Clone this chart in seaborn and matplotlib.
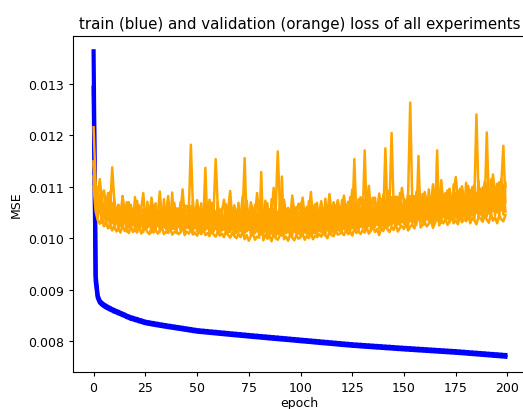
import numpy as np
import matplotlib
matplotlib.use('Agg')
import matplotlib.pyplot as plt
import seaborn as sns

# losses, in units of 1e-6 (MSE), one value per epoch
epochs = list(range(200))

train_a = [
    13640, 9270, 8880, 8780, 8742, 8708, 8686, 8661, 8642, 8618,
    8603, 8582, 8569, 8546, 8532, 8514, 8492, 8478, 8460, 8452,
    8435, 8427, 8410, 8402, 8386, 8377, 8366, 8362, 8352, 8348,
    8338, 8334, 8324, 8320, 8310, 8307, 8297, 8294, 8284, 8282,
    8272, 8270, 8259, 8257, 8247, 8244, 8234, 8232, 8221, 8219,
    8208, 8208, 8200, 8201, 8193, 8193, 8185, 8185, 8178, 8178,
    8170, 8170, 8162, 8163, 8155, 8155, 8147, 8147, 8140, 8140,
    8132, 8132, 8124, 8125, 8117, 8117, 8109, 8110, 8102, 8103,
    8095, 8095, 8088, 8088, 8081, 8081, 8073, 8074, 8066, 8067,
    8059, 8059, 8052, 8052, 8045, 8045, 8037, 8038, 8030, 8031,
    8023, 8023, 8016, 8016, 8009, 8009, 8001, 8002, 7994, 7995,
    7987, 7987, 7980, 7980, 7973, 7973, 7965, 7966, 7958, 7959,
    7951, 7951, 7944, 7944, 7937, 7937, 7930, 7931, 7925, 7926,
    7919, 7920, 7913, 7915, 7908, 7909, 7902, 7903, 7897, 7898,
    7891, 7892, 7885, 7887, 7880, 7881, 7874, 7875, 7869, 7870,
    7863, 7864, 7858, 7859, 7853, 7854, 7847, 7849, 7842, 7844,
    7837, 7838, 7832, 7833, 7827, 7828, 7821, 7823, 7816, 7818,
    7811, 7812, 7806, 7807, 7801, 7802, 7795, 7796, 7789, 7790,
    7783, 7783, 7776, 7777, 7770, 7771, 7764, 7765, 7758, 7759,
    7751, 7752, 7745, 7746, 7739, 7740, 7733, 7734, 7727, 7726,
]

train_b = [
    12930, 9160, 8840, 8745, 8706, 8676, 8650, 8628, 8608, 8590,
    8568, 8555, 8534, 8520, 8500, 8486, 8462, 8450, 8428, 8422,
    8404, 8396, 8380, 8370, 8356, 8345, 8337, 8330, 8322, 8315,
    8308, 8302, 8294, 8288, 8281, 8275, 8268, 8262, 8255, 8250,
    8243, 8238, 8230, 8225, 8217, 8213, 8204, 8200, 8191, 8187,
    8180, 8176, 8171, 8168, 8164, 8160, 8156, 8152, 8149, 8145,
    8141, 8137, 8134, 8130, 8126, 8122, 8119, 8114, 8111, 8107,
    8104, 8099, 8096, 8092, 8089, 8084, 8081, 8077, 8074, 8069,
    8067, 8062, 8060, 8055, 8052, 8047, 8045, 8040, 8038, 8033,
    8031, 8026, 8024, 8019, 8017, 8012, 8009, 8005, 8002, 7997,
    7995, 7990, 7988, 7983, 7981, 7976, 7973, 7969, 7966, 7962,
    7959, 7954, 7952, 7947, 7945, 7940, 7937, 7933, 7930, 7926,
    7923, 7918, 7916, 7911, 7909, 7904, 7902, 7898, 7897, 7892,
    7891, 7886, 7885, 7881, 7880, 7875, 7874, 7869, 7869, 7864,
    7863, 7858, 7857, 7853, 7852, 7847, 7846, 7841, 7841, 7836,
    7835, 7830, 7830, 7825, 7825, 7820, 7819, 7815, 7814, 7810,
    7809, 7804, 7804, 7799, 7799, 7794, 7793, 7789, 7788, 7784,
    7783, 7778, 7778, 7773, 7773, 7768, 7767, 7762, 7761, 7756,
    7755, 7749, 7748, 7743, 7742, 7737, 7736, 7730, 7729, 7724,
    7722, 7717, 7716, 7710, 7709, 7704, 7703, 7697, 7696, 7692,
]

val_a = [
    12160, 11050, 10820, 11150, 10760, 10930, 10640, 10880, 10590, 11380,
    10720, 10480, 10650, 10390, 10820, 10510, 10440, 10690, 10360, 10580,
    10470, 10730, 10410, 10560, 10880, 10350, 10620, 10450, 10790, 10380,
    10540, 10430, 10910, 10370, 10600, 10480, 10820, 10400, 10550, 10690,
    10360, 10580, 10470, 10950, 10420, 10630, 10510, 11820, 10600, 10380,
    10740, 10460, 10570, 10390, 10830, 10500, 10410, 10680, 10530, 11540,
    10620, 10380, 10490, 10750, 10430, 10560, 10920, 10370, 10640, 10480,
    10550, 10390, 10810, 10460, 10620, 10350, 10700, 10520, 10410, 10880,
    10470, 10600, 10380, 10730, 10490, 10560, 10420, 10980, 10530, 11690,
    10610, 10400, 10750, 10480, 10590, 10370, 10830, 10500, 10440, 10670,
    10520, 10790, 10430, 10610, 10480, 10900, 10390, 10660, 10540, 10470,
    10720, 10450, 10600, 10510, 10860, 10420, 10680, 10550, 10740, 10480,
    10620, 10830, 10500, 10710, 10560, 10950, 10470, 10690, 10580, 10800,
    10530, 10740, 10610, 11020, 10560, 10790, 10640, 10500, 10870, 10600,
    10720, 10560, 10930, 10650, 12050, 10580, 10810, 10690, 10620, 10980,
    10700, 10590, 10880, 12640, 10660, 10820, 10610, 11080, 10730, 10650,
    10900, 10680, 10790, 10620, 11050, 10740, 10860, 10700, 11130, 10650,
    10820, 10730, 10960, 10690, 10880, 11190, 10760, 10700, 10940, 10810,
    10720, 11020, 10790, 10880, 10750, 12410, 10840, 10960, 10780, 11100,
    10830, 10920, 10760, 11240, 10870, 10990, 10800, 11150, 10890, 11010,
]

val_b = [
    11500, 10720, 10560, 10830, 10480, 10610, 10390, 10700, 10350, 10520,
    10290, 10460, 10330, 10580, 10240, 10410, 10370, 10220, 10650, 10300,
    10390, 10250, 10530, 10320, 10200, 10440, 10280, 10610, 10230, 10360,
    10270, 10480, 10210, 10350, 10590, 10250, 10300, 10420, 10190, 10530,
    10280, 10370, 10230, 10460, 10310, 10200, 10550, 10290, 10380, 10240,
    10330, 10470, 10180, 10290, 11370, 10260, 10400, 10220, 10510, 10300,
    10250, 10380, 10170, 10430, 10290, 10210, 10570, 10240, 10330, 10160,
    10360, 10230, 10450, 11560, 10200, 10310, 10150, 10480, 10260, 10190,
    10400, 10240, 10130, 10350, 10280, 10520, 10170, 10300, 10220, 10440,
    10180, 10370, 10250, 10140, 10490, 10230, 10320, 10170, 10410, 10260,
    10200, 10380, 10250, 10560, 10190, 10330, 10270, 10450, 10210, 10360,
    10290, 10230, 10500, 10260, 10380, 10220, 10600, 10310, 10250, 10430,
    10280, 10370, 10240, 10520, 10330, 10290, 11540, 10350, 10260, 10480,
    10320, 11710, 10380, 10270, 10550, 10340, 10420, 10300, 10660, 10370,
    10450, 11750, 10390, 10510, 10330, 10620, 10400, 10360, 10580, 10440,
    10380, 10700, 10460, 10410, 10590, 10370, 10520, 10480, 10750, 10430,
    10550, 10470, 10680, 10420, 10600, 10510, 10460, 10790, 10530, 10480,
    10640, 10500, 10850, 10560, 10470, 10720, 10590, 10530, 11000, 10610,
    10560, 10780, 10620, 10540, 10900, 10650, 10580, 10820, 10700, 10610,
    12060, 10680, 10870, 10620, 10950, 10730, 10660, 11050, 11800, 10700,
]

val_c = [
    11000, 10520, 10350, 10280, 10410, 10230, 10310, 10190, 10270, 10150,
    10240, 10130, 10200, 10110, 10260, 10140, 10180, 10100, 10230, 10120,
    10170, 10110, 10250, 10090, 10150, 10200, 10120, 10080, 10220, 10110,
    10160, 10090, 10140, 10210, 10080, 10130, 10100, 10190, 10070, 10120,
    10150, 10080, 10110, 10240, 10060, 10130, 10090, 10170, 10070, 10110,
    10050, 10140, 10080, 10190, 10060, 10100, 10040, 10150, 10070, 10030,
    10120, 10050, 10090, 10020, 10140, 10060, 10010, 10100, 10040, 10000,
    10080, 10020, 10130, 9980, 10060, 9950, 10040, 10090, 9970, 10030,
    10010, 11290, 9960, 10070, 9990, 10040, 9940, 10100, 10000, 9970,
    10050, 11200, 9980, 10030, 9950, 10080, 10010, 9960, 10060, 9990,
    10020, 10090, 9970, 10040, 10000, 10110, 9980, 10050, 10020, 10080,
    10030, 10100, 10050, 10000, 10130, 10060, 10040, 10150, 10070, 10090,
    10110, 10060, 10170, 10080, 10120, 10050, 10190, 10100, 10140, 10080,
    10160, 10110, 10210, 10090, 10150, 10230, 10120, 10180, 10060, 10200,
    10140, 10250, 10170, 10120, 10220, 10160, 10280, 10130, 10200, 10240,
    10180, 10300, 10150, 10220, 10270, 10190, 10330, 11600, 10210, 10260,
    10310, 10230, 10280, 10360, 10200, 10300, 11710, 10250, 10340, 10290,
    10380, 10260, 10320, 10410, 10290, 10350, 10270, 10430, 10310, 10370,
    10330, 10450, 10290, 10390, 10350, 10270, 10420, 10380, 10320, 10460,
    10360, 10300, 10480, 10340, 10410, 10290, 10440, 10370, 10330, 10450,
]

val_d = [
    11450, 10900, 10400, 10750, 10300, 10620, 10250, 10560, 10200, 10680,
    10180, 10540, 10150, 10600, 10220, 10480, 10130, 10700, 10190, 10510,
    10140, 10620, 10170, 10450, 10120, 10560, 10200, 10490, 10110, 10650,
    10160, 10530, 10130, 10470, 10210, 10590, 10120, 10440, 10180, 10610,
    10100, 10500, 10150, 10560, 10120, 10440, 10190, 10620, 10110, 10480,
    10140, 10580, 10090, 10510, 10160, 10450, 10100, 10690, 10130, 10520,
    10080, 10560, 10150, 10430, 10090, 10600, 10120, 10470, 10060, 10540,
    10110, 10480, 10070, 10620, 10130, 10500, 10050, 10580, 10100, 10450,
    10060, 10530, 10120, 10600, 10040, 10490, 10090, 10570, 10030, 10510,
    10100, 10640, 10060, 10460, 10110, 10550, 10040, 10590, 10080, 10500,
    10050, 10620, 10110, 10480, 10070, 10560, 10090, 10650, 10060, 10520,
    10120, 10580, 10080, 10500, 10140, 10630, 10100, 10540, 10150, 10600,
    10110, 10680, 10160, 10560, 10130, 10620, 10180, 10700, 10140, 10590,
    10200, 10650, 10170, 10730, 10150, 10600, 10220, 10680, 10190, 10760,
    10230, 10640, 10200, 10710, 10260, 10690, 10210, 10800, 10250, 10660,
    10280, 10740, 10230, 10820, 10300, 10700, 10260, 10780, 10310, 10860,
    10270, 10750, 10330, 10810, 10290, 10900, 10340, 10770, 10300, 10850,
    10360, 10930, 10320, 10800, 10370, 10880, 10340, 10960, 10390, 10820,
    10350, 10910, 10400, 11000, 10380, 10870, 10420, 10950, 10360, 11040,
    10430, 10900, 10390, 10980, 10450, 11060, 10410, 10930, 10460, 11080,
]

val_e = [
    11200, 10650, 11000, 10500, 10850, 10420, 10780, 10350, 10900, 10300,
    10760, 10280, 10650, 10240, 10820, 10300, 10700, 10210, 10590, 10260,
    10800, 10190, 10640, 10250, 10560, 10180, 10710, 10230, 10600, 10170,
    10680, 10240, 10550, 10200, 10760, 10170, 10620, 10230, 10890, 10180,
    10580, 10220, 10700, 10160, 10640, 10210, 10560, 10150, 10730, 10200,
    10620, 10170, 10680, 10140, 10560, 10190, 10750, 10130, 10610, 10180,
    10700, 10120, 10580, 10170, 10660, 10110, 10800, 10150, 10570, 10100,
    10690, 10140, 10620, 10090, 10730, 10160, 10580, 10080, 10650, 10130,
    10710, 10070, 10590, 10120, 10680, 10060, 10760, 10110, 10620, 10080,
    10700, 10050, 10630, 10100, 10580, 10070, 10740, 10120, 10610, 10090,
    10680, 10110, 10570, 10080, 10720, 10130, 10600, 10100, 10690, 10140,
    10630, 10110, 10770, 10150, 10610, 10120, 10700, 10170, 10650, 10140,
    10740, 10180, 10620, 10150, 10800, 10200, 10680, 10170, 10760, 10220,
    10660, 10190, 10830, 10240, 10710, 10210, 10790, 10260, 10690, 10230,
    10850, 10270, 10740, 10250, 10800, 10290, 10720, 10270, 10880, 10310,
    10760, 10290, 10840, 10330, 10790, 10300, 10900, 10350, 10810, 10320,
    10870, 10370, 10950, 10340, 10830, 10390, 10920, 10360, 11000, 10410,
    10880, 10380, 10960, 10430, 11050, 10400, 10920, 10450, 11010, 10420,
    11080, 10470, 10940, 10440, 11030, 10490, 11120, 10460, 10990, 10510,
    11060, 10480, 11150, 10530, 11000, 10500, 11090, 10550, 11020, 10520,
]

scale = 1e-6
train_runs = [train_a, train_b]
val_runs = [val_a, val_b, val_c, val_d, val_e]

fig = plt.figure(figsize=(5.23, 4.1), dpi=100)
ax = fig.add_axes([73 / 523, 37 / 410, 453 / 523, 336 / 410])

for run in train_runs:
    sns.lineplot(x=epochs, y=np.array(run) * scale, color='blue', linewidth=3, ax=ax)
for run in val_runs:
    sns.lineplot(x=epochs, y=np.array(run) * scale, color='orange', linewidth=1.8, ax=ax)

ax.set_title('train (blue) and validation (orange) loss of all experiments', fontsize=10.8, pad=5.4)
ax.set_xlabel('epoch', fontsize=9, labelpad=1.5)
ax.set_ylabel('MSE', fontsize=9, labelpad=3.6)
ax.set_xticks([0, 25, 50, 75, 100, 125, 150, 175, 200])
ax.tick_params(labelsize=9, length=3.2, pad=3.2)

fig.savefig('out.png', dpi=100)
